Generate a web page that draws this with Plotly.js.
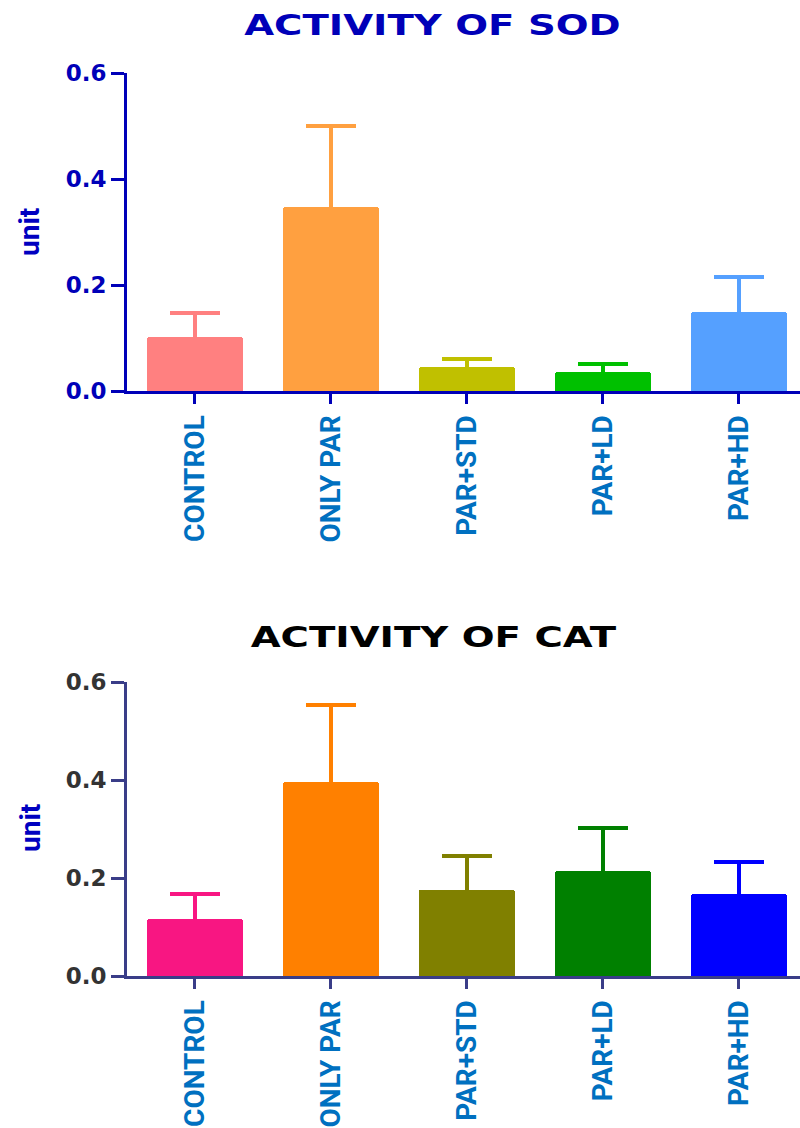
<!DOCTYPE html>
<html>
<head>
<meta charset="utf-8">
<script src="https://cdn.plot.ly/plotly-3.0.1.min.js"></script>
<style>
  html, body { margin: 0; padding: 0; background: #fff; }
  #chart { width: 800px; height: 1128px; }
</style>
</head>
<body>
<div id="chart"></div>
<script>
// ---- data ----
const categories = ["CONTROL", "ONLY PAR", "PAR+STD", "PAR+LD", "PAR+HD"];
const sodMean = [0.102, 0.347, 0.045, 0.036, 0.149];
const sodSD   = [0.045, 0.153, 0.015, 0.015, 0.066];
const catMean = [0.116, 0.396, 0.176, 0.214, 0.167];
const catSD   = [0.051, 0.157, 0.069, 0.088, 0.066];
const sodColors = ["#ff8080", "#ffa040", "#c0c000", "#00c000", "#55a0ff"];
const catColors = ["#f81682", "#ff8000", "#808000", "#008000", "#0000ff"];
const yTicks = [0, 0.2, 0.4, 0.6];
const yTickText = ["0.0", "0.2", "0.4", "0.6"];

const traces = [];
function addBars(means, sds, colors, xa, ya) {
  categories.forEach((c, i) => {
    traces.push({
      type: "bar", x: [c], y: [means[i]], xaxis: xa, yaxis: ya,
      width: 0.71, showlegend: false, hoverinfo: "skip",
      marker: { color: colors[i], cornerradius: 3, line: { width: 0 } },
      // lower arm runs down to zero (hidden inside the bar and clipped at the axis)
      error_y: { type: "data", symmetric: false, array: [sds[i]], arrayminus: [means[i]],
                 color: colors[i], thickness: 4, width: 25 }
    });
  });
}
addBars(sodMean, sodSD, sodColors, "x", "y");
addBars(catMean, catSD, catColors, "x2", "y2");

const xLabFont = { family: "Liberation Sans Narrow, Roboto, sans-serif", size: 28, color: "#0070c0", weight: "bold" };
function xAxis(lineColor) {
  return {
    domain: [127/800, 1], type: "category", categoryorder: "array", categoryarray: categories,
    range: [-0.5, 4.45], showline: true, linecolor: lineColor, linewidth: 3,
    ticks: "outside", ticklen: 10, tickwidth: 3, tickcolor: lineColor,
    tickangle: -90, tickfont: xLabFont, showgrid: false, zeroline: false, fixedrange: true
  };
}
function yAxis(domain, lineColor, tickColor) {
  return {
    domain: domain, range: [0, 0.6], tickvals: yTicks, ticktext: yTickText,
    showline: true, linecolor: lineColor, linewidth: 3,
    ticks: "outside", ticklen: 13, tickwidth: 3, tickcolor: lineColor,
    tickfont: { family: "DejaVu Sans, sans-serif", size: 23, color: tickColor, weight: "bold" },
    showgrid: false, zeroline: false, fixedrange: true
  };
}

const layout = {
  width: 800, height: 1128,
  margin: { l: 0, r: 0, t: 0, b: 0 },
  paper_bgcolor: "#fff", plot_bgcolor: "#fff",
  barmode: "overlay", bargap: 0,
  xaxis: Object.assign(xAxis("#0000b8"), { anchor: "y" }),
  yaxis: Object.assign(yAxis([1 - 391/1128, 1 - 73/1128], "#0000b8", "#0000b8"), { anchor: "x" }),
  xaxis2: Object.assign(xAxis("#3a3d88"), { anchor: "y2" }),
  yaxis2: Object.assign(yAxis([1 - 976/1128, 1 - 682/1128], "#3a3d88", "#333333"), { anchor: "x2" }),
  annotations: [
    { text: "ACTIVITY OF SOD", xref: "paper", yref: "paper", x: 432/800, y: 1 - 25/1128,
      showarrow: false, xanchor: "center", yanchor: "middle",
      font: { family: "DejaVu Sans, sans-serif", size: 28, color: "#0000b8", weight: "bold" } },
    { text: "ACTIVITY OF CAT", xref: "paper", yref: "paper", x: 433/800, y: 1 - 637/1128,
      showarrow: false, xanchor: "center", yanchor: "middle",
      font: { family: "DejaVu Sans, sans-serif", size: 28, color: "#000000", weight: "bold" } },
    { text: "unit", xref: "paper", yref: "paper", x: 30/800, y: 1 - 232/1128, textangle: -90,
      showarrow: false, xanchor: "center", yanchor: "middle",
      font: { family: "Liberation Sans Narrow, Roboto, sans-serif", size: 28, color: "#0000c0", weight: "bold" } },
    { text: "unit", xref: "paper", yref: "paper", x: 30/800, y: 1 - 828/1128, textangle: -90,
      showarrow: false, xanchor: "center", yanchor: "middle",
      font: { family: "Liberation Sans Narrow, Roboto, sans-serif", size: 28, color: "#0000c0", weight: "bold" } }
  ]
};

Plotly.newPlot("chart", traces, layout, { displayModeBar: false, staticPlot: true }).then(gd => {
  gd.querySelectorAll(".annotation-text").forEach(t => {
    if (t.textContent.indexOf("ACTIVITY") === 0) {
      t.style.transformBox = "fill-box";
      t.style.transformOrigin = "center";
      t.style.transform = "scaleX(1.38)";
    }
  });
});
</script>
</body>
</html>
